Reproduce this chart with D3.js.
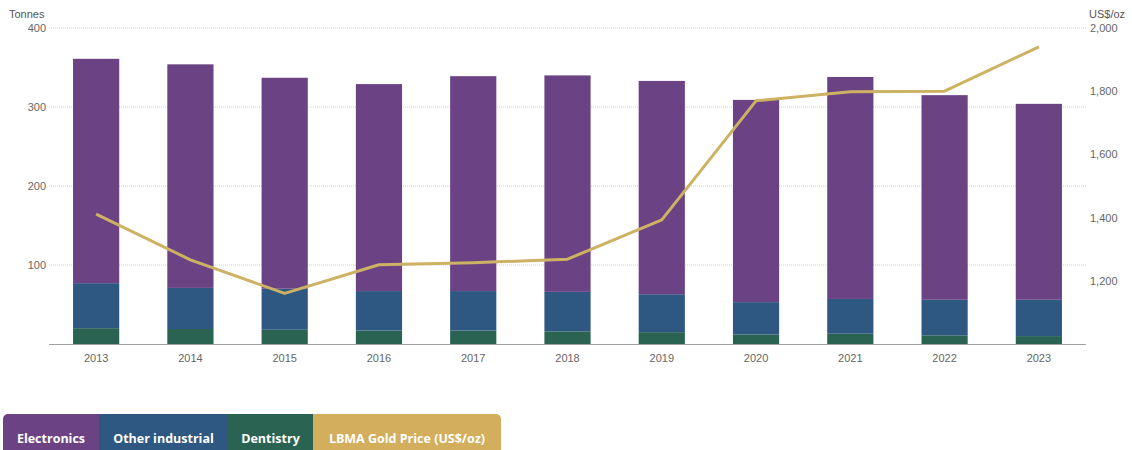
<!DOCTYPE html>
<html lang="en">
<head>
<meta charset="utf-8">
<script src="https://d3js.org/d3.v7.min.js"></script>
<style>
  body { margin: 0; background: #fff; }
  svg { display: block; }
  .axis text { font-family: "Liberation Sans", Arial, sans-serif; font-size: 11px; fill: #666; }
  .legend text { font-family: "Open Sans", sans-serif; font-size: 12.5px; font-weight: 700; fill: #fff; }
</style>
</head>
<body>
<svg width="1132" height="450"></svg>
<script>
  // values
  const years = ["2013","2014","2015","2016","2017","2018","2019","2020","2021","2022","2023"]
  const electronics = [284, 283, 267, 262, 272, 274, 270, 256, 281, 259, 248]
  const otherIndustrial = [57, 52, 52, 50, 50, 50, 48, 41, 44, 45, 46]
  const dentistry = [20, 19, 18, 17, 17, 16, 15, 12, 13, 11, 10]
  const goldPrice = [1411.2, 1266.4, 1160.1, 1250.8, 1257.1, 1268.5, 1392.6, 1769.6, 1798.6, 1800.1, 1940.5]
  const leftTicks = [100, 200, 300, 400]
  const rightTicks = [1200, 1400, 1600, 1800, 2000]
  const legendItems = ["Electronics", "Other industrial", "Dentistry", "LBMA Gold Price (US$/oz)"]

  const colors = ["#6b4385", "#2e5781", "#2a6352", "#d3ae5c"]
  const lineColor = "#ccb262"

  const svg = d3.select("svg")
  const m = {top: 28, left: 49, right: 1086, bottom: 344}

  const x = d3.scaleBand().domain(years).range([m.left, m.right]).paddingInner(0.51).paddingOuter(0.255)
  const y = d3.scaleLinear().domain([0, 400]).range([m.bottom, m.top])
  const y2 = d3.scaleLinear().domain([1000, 2000]).range([m.bottom, m.top])

  // gridlines
  svg.append("g").selectAll("line").data(leftTicks).enter().append("line")
      .attr("x1", m.left).attr("x2", m.right)
      .attr("y1", d => y(d)).attr("y2", d => y(d))
      .attr("stroke", "#cfcfcf").attr("stroke-width", 1).attr("stroke-dasharray", "1,1")

  // stacked bars, dentistry at the bottom
  const rows = years.map((yr, i) => ({year: yr, dentistry: dentistry[i], other: otherIndustrial[i], electronics: electronics[i]}))
  const series = d3.stack().keys(["dentistry", "other", "electronics"])(rows)
  const fillFor = {dentistry: colors[2], other: colors[1], electronics: colors[0]}

  svg.append("g").selectAll("g").data(series).enter().append("g")
      .attr("fill", d => fillFor[d.key])
    .selectAll("rect").data(d => d).enter().append("rect")
      .attr("x", d => x(d.data.year))
      .attr("width", x.bandwidth())
      .attr("y", d => y(d[1]))
      .attr("height", d => y(d[0]) - y(d[1]))

  // baseline
  svg.append("line").attr("x1", m.left).attr("x2", m.right)
      .attr("y1", m.bottom + 0.5).attr("y2", m.bottom + 0.5)
      .attr("stroke", "#a0a0a0").attr("stroke-width", 1.2)

  // gold price line
  const line = d3.line().x((d, i) => x(years[i]) + x.bandwidth() / 2).y(d => y2(d))
  svg.append("path").datum(goldPrice)
      .attr("d", line).attr("fill", "none")
      .attr("stroke", lineColor).attr("stroke-width", 3).attr("stroke-linejoin", "round")

  // axes
  const xAxis = svg.append("g").attr("class", "axis")
      .attr("transform", "translate(0," + m.bottom + ")")
      .call(d3.axisBottom(x).tickSize(0).tickPadding(10))
  xAxis.select(".domain").remove()

  const yAxis = svg.append("g").attr("class", "axis")
      .attr("transform", "translate(" + (m.left - 3) + ",0)")
      .call(d3.axisLeft(y).tickValues(leftTicks).tickSize(0).tickPadding(0))
  yAxis.select(".domain").remove()

  const y2Axis = svg.append("g").attr("class", "axis")
      .attr("transform", "translate(" + (m.right + 4) + ",0)")
      .call(d3.axisRight(y2).tickValues(rightTicks).tickSize(0).tickPadding(0).tickFormat(d3.format(",")))
  y2Axis.select(".domain").remove()

  svg.append("text").attr("x", 9).attr("y", 18)
      .text("Tonnes").style("font-family", "Liberation Sans, Arial, sans-serif").style("font-size", "11px").style("fill", "#555")
  svg.append("text").attr("x", 1089).attr("y", 18)
      .text("US$/oz").style("font-family", "Liberation Sans, Arial, sans-serif").style("font-size", "11px").style("fill", "#555")

  // legend
  const legendX = [3, 99, 228, 313, 501]
  const lg = svg.append("g").attr("class", "legend")
  const clip = svg.append("clipPath").attr("id", "lgclip")
  clip.append("rect").attr("x", 3).attr("y", 414).attr("width", 498).attr("height", 60).attr("rx", 5)
  lg.attr("clip-path", "url(#lgclip)")
  legendItems.forEach((name, i) => {
    lg.append("rect").attr("x", legendX[i]).attr("y", 414)
        .attr("width", legendX[i + 1] - legendX[i]).attr("height", 40)
        .attr("fill", colors[i])
    lg.append("text").attr("x", (legendX[i] + legendX[i + 1]) / 2).attr("y", 442.5)
        .attr("text-anchor", "middle").text(name)
  })
</script>
</body>
</html>
